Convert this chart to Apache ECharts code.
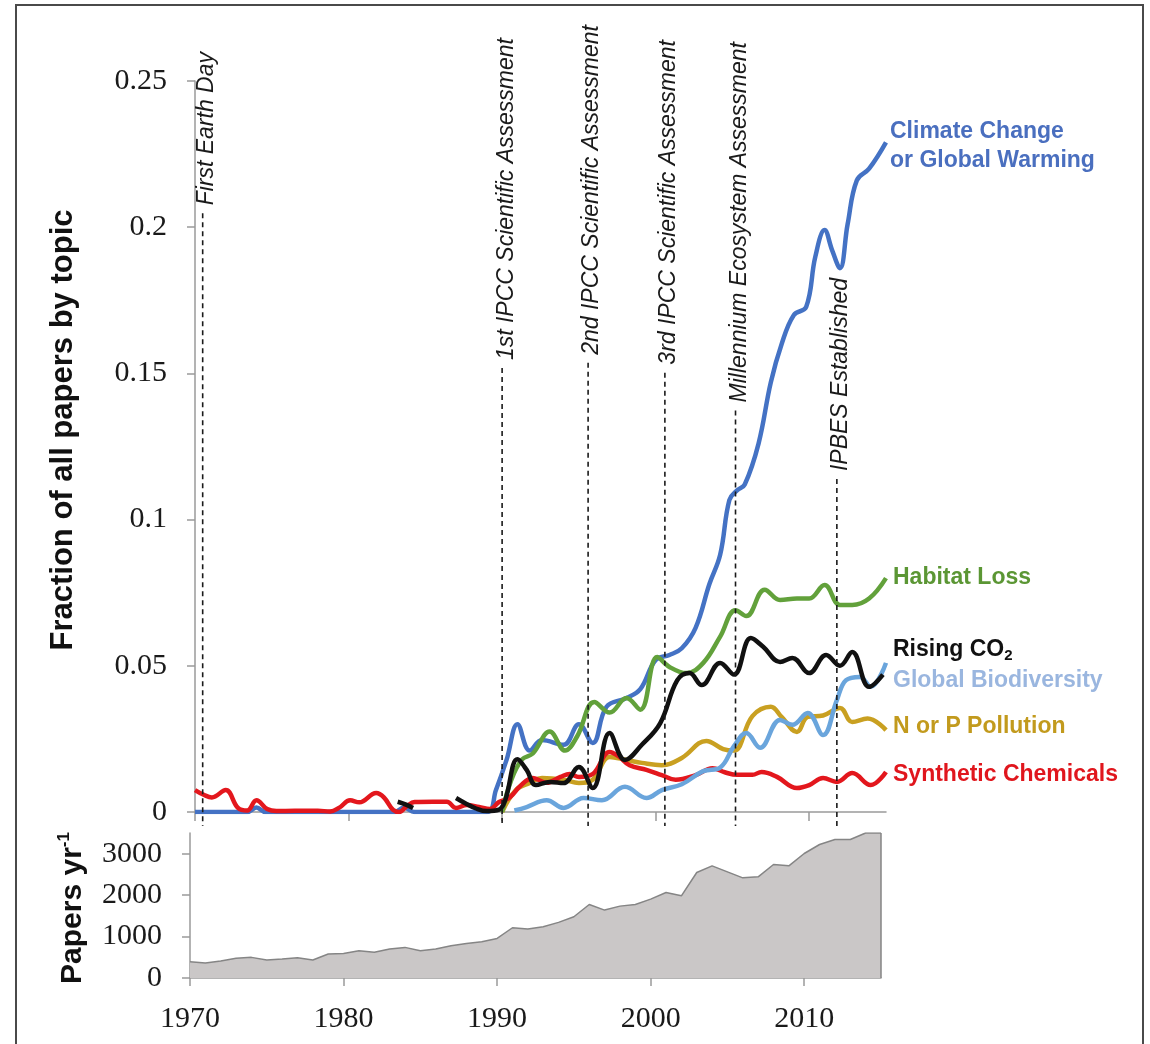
<!DOCTYPE html>
<html><head><meta charset="utf-8">
<script src="https://cdn.jsdelivr.net/npm/echarts@6/dist/echarts.min.js"></script>
<style>html,body{margin:0;padding:0;background:#fff}#c{width:1150px;height:1044px}</style>
</head><body><div id="c"></div>
<script>
// ---------------- DATA ----------------
const paperYears = [1970,1971,1972,1973,1974,1975,1976,1977,1978,1979,
  1980,1981,1982,1983,1984,1985,1986,1987,1988,1989,
  1990,1991,1992,1993,1994,1995,1996,1997,1998,1999,
  2000,2001,2002,2003,2004,2005,2006,2007,2008,2009,
  2010,2011,2012,2013,2014,2015];
const papersPerYear = [393,362,410,474,498,434,458,490,434,578,
  594,659,619,699,739,659,699,779,835,876,
  956,1213,1181,1237,1342,1478,1775,1639,1735,1775,
  1904,2065,1984,2547,2707,2562,2418,2442,2740,2707,
  3005,3222,3343,3343,3500,3500];

const climateChange = [[1970,0],[1973.4,0],[1974,0.0015],[1974.6,0],[1983,0],[1983.6,0.0015],[1984.3,0],[1989,0],
  [1989.6,0.0075],[1990.3,0.018],[1991,0.030],[1991.8,0.021],[1992.6,0.0246],[1994,0.023],[1995,0.030],[1995.9,0.0236],
  [1996.8,0.036],[1998.1,0.039],[1999,0.042],[2000,0.052],[2000.9,0.0537],[2001.7,0.056],[2002.6,0.063],[2003.5,0.078],
  [2004.2,0.088],[2004.8,0.1067],[2005.3,0.110],[2005.8,0.112],[2006.7,0.126],[2007.5,0.147],[2008.2,0.160],[2009,0.170],
  [2009.8,0.1727],[2010.4,0.190],[2011,0.199],[2011.5,0.192],[2012,0.186],[2012.5,0.201],[2013.1,0.216],[2013.9,0.220],[2015,0.229]];
const habitatLoss = [[1990,0],[1990.6,0.011],[1991.3,0.018],[1992,0.020],[1993.1,0.0275],[1994.1,0.021],[1994.9,0.026],
  [1996,0.0376],[1997,0.034],[1998.1,0.039],[1999,0.035],[2000.1,0.053],[2000.9,0.0496],[2002,0.0475],[2003.1,0.051],
  [2004.2,0.060],[2005.2,0.069],[2005.9,0.067],[2007.1,0.076],[2008.1,0.0725],[2009.2,0.073],[2010,0.073],[2011,0.0776],
  [2012,0.0708],[2012.8,0.0708],[2013.9,0.073],[2015,0.080]];
const risingCO2 = [[1983.2,0.0035],[1983.7,0.0026],[1984.2,0.0014],[1985.5,'-'],
  [1987,0.0048],[1987.6,0.003],[1988.3,0.0012],[1989,0.0003],[1989.8,0.0008],[1990.2,0.004],[1991,0.018],[1991.6,0.0144],
  [1992.2,0.0092],[1993.1,0.0103],[1994,0.0099],[1995,0.0154],[1995.9,0.0082],[1997,0.027],[1998,0.0178],[1999.1,0.023],
  [2000.3,0.0304],[2001.4,0.045],[2002.2,0.0475],[2003,0.0434],[2004.2,0.051],[2005.1,0.047],[2006.2,0.0595],[2007,0.0565],
  [2008.1,0.0513],[2008.9,0.0527],[2010,0.0475],[2011.1,0.0537],[2012,0.050],[2012.8,0.0547],[2013.9,0.0428],[2014.8,0.047]];
const globalBiodiversity = [[1990.8,0.0005],[1991.6,0.0017],[1992.9,0.004],[1994,0.0014],[1995.3,0.0048],[1996.5,0.004],
  [1998,0.0086],[1999.4,0.0048],[2000.4,0.0075],[2001.7,0.0095],[2003.1,0.014],[2004.2,0.0152],[2005.1,0.0225],[2005.9,0.027],
  [2006.8,0.022],[2008.1,0.0315],[2008.9,0.0298],[2009.9,0.0339],[2010.9,0.0263],[2011.8,0.0383],[2012.4,0.0451],[2013.3,0.0462],
  [2014,0.0428],[2015,0.051]];
const nOrPPollution = [[1990,0],[1990.9,0.0075],[1991.8,0.0099],[1992.6,0.0116],[1994,0.011],[1995,0.0099],[1995.9,0.011],
  [1997,0.0188],[1998.1,0.0178],[1999.1,0.0168],[2000.4,0.016],[2001.7,0.0185],[2003.3,0.0243],[2004.4,0.0215],[2005.1,0.021],
  [2006.3,0.0328],[2007.5,0.036],[2008.2,0.0325],[2009.2,0.0274],[2009.9,0.0325],[2010.9,0.033],[2012,0.0356],[2012.8,0.0308],
  [2013.8,0.032],[2015,0.028]];
const syntheticChemicals = [[1970,0.0075],[1970.6,0.0058],[1971.1,0.005],[1972,0.0075],[1972.8,0.0014],[1973.4,0.0005],[1974,0.004],
  [1974.7,0.001],[1975.3,0.0003],[1976.5,0.0004],[1978,0.0004],[1978.8,0.0002],[1979.4,0.0015],[1980.1,0.004],[1980.7,0.0033],
  [1981.8,0.0065],[1982.3,0.005],[1982.9,0.0007],[1983.3,0],[1983.8,0.002],[1984.3,0.0034],[1985.5,0.0035],[1986.4,0.0035],
  [1987,0.0014],[1987.7,0.0024],[1988.5,0.0017],[1989.2,0.001],[1989.8,0.0034],[1990.5,0.005],[1991.2,0.009],[1992,0.0116],
  [1992.9,0.010],[1993.8,0.012],[1994.4,0.013],[1995,0.012],[1995.9,0.013],[1997,0.0205],[1997.6,0.019],[1998.3,0.016],
  [1999.4,0.0144],[2000.4,0.0126],[2001.3,0.011],[2002.6,0.0126],[2003.7,0.015],[2004.5,0.0136],[2005.3,0.0127],[2006.3,0.0127],
  [2006.9,0.0137],[2007.9,0.012],[2009.2,0.0082],[2010,0.0092],[2010.9,0.0116],[2011.8,0.0103],[2012.8,0.0133],[2014,0.0092],[2015,0.0137]];

const eventYears = [1970.5, 1990.0, 1995.6, 2000.6, 2005.2, 2011.8];
const eventNames = ['First Earth Day','1st IPCC Scientific Assessment','2nd IPCC Scientific Assessment',
  '3rd IPCC Scientific Assessment','Millennium Ecosystem Assessment','IPBES Established'];

const yearTicks = [1970,1980,1990,2000,2010];
const fractionTicks = [0,0.05,0.1,0.15,0.2,0.25];
const paperTicks = [0,1000,2000,3000];

// ---------------- STYLE ----------------
const SERIF = '"Liberation Serif","Times New Roman",serif';
const SANS = '"Liberation Sans",Arial,sans-serif';
const AXIS_GRAY = '#9a9a9a';
const eventLabelTop = [52,38,25,40,42,278];
const seriesStyle = [
  {name:'Climate Change or Global Warming', data:climateChange, color:'#4472c4'},
  {name:'N or P Pollution', data:nOrPPollution, color:'#c9a021'},
  {name:'Synthetic Chemicals', data:syntheticChemicals, color:'#e3171d'},
  {name:'Global Biodiversity', data:globalBiodiversity, color:'#6aa5dc'},
  {name:'Habitat Loss', data:habitatLoss, color:'#62a13b'},
  {name:'Rising CO2', data:risingCO2, color:'#111111'}
];
const plain = v => String(v);

const chart = echarts.init(document.getElementById('c'), null, {renderer:'canvas'});

const axisLineStyle = {show:true, lineStyle:{color:AXIS_GRAY, width:1.5}};
const option = {
  animation:false,
  backgroundColor:'#fff',
  grid:[
    {left:195, top:81, width:691, height:731},
    {left:190, top:833, width:691, height:145}
  ],
  xAxis:[
    {gridIndex:0, type:'value', min:1970, max:2015, splitLine:{show:false},
     axisLine:axisLineStyle, axisLabel:{show:false},
     axisTick:{show:true, length:9, customValues:yearTicks, lineStyle:{color:AXIS_GRAY, width:1.5}}},
    {gridIndex:1, type:'value', min:1970, max:2015, splitLine:{show:false},
     axisLine:axisLineStyle,
     axisTick:{show:true, length:8, customValues:yearTicks, lineStyle:{color:AXIS_GRAY, width:1.5}},
     axisLabel:{customValues:yearTicks, formatter:plain, fontFamily:SERIF, fontSize:30, color:'#1a1a1a', margin:26}}
  ],
  yAxis:[
    {gridIndex:0, type:'value', min:0, max:0.25, interval:0.05, splitLine:{show:false},
     axisLine:axisLineStyle,
     axisTick:{show:true, length:8, customValues:fractionTicks, lineStyle:{color:AXIS_GRAY, width:1.5}},
     axisLabel:{customValues:fractionTicks, formatter:plain, fontFamily:SERIF, fontSize:30, color:'#1a1a1a', margin:28}},
    {gridIndex:1, type:'value', min:0, max:3500, splitLine:{show:false},
     axisLine:axisLineStyle,
     axisTick:{show:true, length:8, customValues:paperTicks, lineStyle:{color:AXIS_GRAY, width:1.5}},
     axisLabel:{customValues:paperTicks, formatter:plain, fontFamily:SERIF, fontSize:30, color:'#1a1a1a', margin:28}}
  ],
  series:[
    {type:'line', name:'Papers per year', xAxisIndex:1, yAxisIndex:1,
     data:paperYears.map((y,i)=>[y,papersPerYear[i]]), symbol:'none',
     lineStyle:{color:'#858585', width:1.5}, areaStyle:{color:'#cac7c7', opacity:1},
     markLine:{silent:true, symbol:'none', label:{show:false}, lineStyle:{color:'#858585', width:1.5, type:'solid'},
       data:[{xAxis:2015}]}}
  ].concat(seriesStyle.map(s=>({
    type:'line', name:s.name, xAxisIndex:0, yAxisIndex:0, data:s.data, symbol:'none',
    smooth:0.4, connectNulls:false, lineStyle:{color:s.color, width:4.5}, itemStyle:{color:s.color}
  })))
};
chart.setOption(option);

// ---------------- ANNOTATIONS ----------------
const ctx = document.createElement('canvas').getContext('2d');
const EVENT_FONT = 'italic 23px ' + SANS;
ctx.font = EVENT_FONT;
const axisY0 = chart.convertToPixel({gridIndex:0}, [1970, 0])[1];
const graphics = [
  {type:'rect', shape:{x:16, y:5, width:1127, height:1100}, style:{fill:'none', stroke:'#4a4a4a', lineWidth:2}, z:100}
];
eventYears.forEach((yr, i) => {
  const px = chart.convertToPixel({gridIndex:0}, [yr, 0])[0];
  const top = eventLabelTop[i];
  const w = ctx.measureText(eventNames[i]).width;
  graphics.push({type:'text', x:px + 4, y:top, rotation:Math.PI/2, z:50,
    style:{text:eventNames[i], font:EVENT_FONT, fill:'#1a1a1a', align:'right', verticalAlign:'middle'}});
  graphics.push({type:'line', z:40, shape:{x1:px, y1:top + w + 8, x2:px, y2:axisY0 + 14},
    style:{stroke:'#1a1a1a', lineWidth:1.6, lineDash:[5,4]}});
});

const LBL = 'bold 23px ' + SANS;
const seriesLabels = [
  {text:'Climate Change', x:890, y:132, color:'#4a6fbf'},
  {text:'or Global Warming', x:890, y:161, color:'#4a6fbf'},
  {text:'Habitat Loss', x:893, y:578, color:'#5b9634'},
  {text:'Global Biodiversity', x:893, y:681, color:'#9ab6df'},
  {text:'N or P Pollution', x:893, y:727, color:'#c29a1d'},
  {text:'Synthetic Chemicals', x:893, y:775, color:'#e0161d'}
];
seriesLabels.forEach(l => graphics.push({type:'text', x:l.x, y:l.y, z:50,
  style:{text:l.text, font:LBL, fill:l.color, align:'left', verticalAlign:'middle'}}));
graphics.push({type:'text', x:893, y:650, z:50,
  style:{text:'{a|Rising CO}{b|2}', align:'left', verticalAlign:'middle',
    rich:{a:{font:LBL, fill:'#111', lineHeight:26}, b:{font:'bold 15px ' + SANS, fill:'#111', verticalAlign:'bottom', lineHeight:12}}}});

// axis titles
graphics.push({type:'text', x:63, y:430, rotation:Math.PI/2, z:50,
  style:{text:'Fraction of all papers by topic', font:'bold 31px ' + SANS, fill:'#111', align:'center', verticalAlign:'middle'}});
graphics.push({type:'text', x:73, y:908, rotation:Math.PI/2, z:50,
  style:{text:'{a|Papers yr}{s|-1}', align:'center', verticalAlign:'middle',
    rich:{a:{font:'bold 30px ' + SANS, fill:'#111', lineHeight:34}, s:{font:'bold 17px ' + SANS, fill:'#111', verticalAlign:'top', lineHeight:18}}}});

chart.setOption({graphic:graphics});
</script>
</body></html>
